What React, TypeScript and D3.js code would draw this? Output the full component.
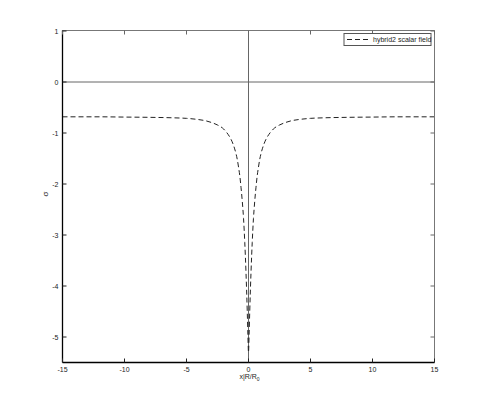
import React, { useEffect, useRef } from 'react'
import * as d3 from 'd3'

// profile of the field
const xValues = [-15, -12, -10, -8, -6, -5, -4, -3.5, -3, -2.5, -2, -1.75, -1.5, -1.25, -1, -0.9, -0.8, -0.7, -0.6, -0.5, -0.4, -0.3, -0.2, -0.1, -0.05, 0,
    0.05, 0.1, 0.2, 0.3, 0.4, 0.5, 0.6, 0.7, 0.8, 0.9, 1, 1.25, 1.5, 1.75, 2, 2.5, 3, 3.5, 4, 5, 6, 8, 10, 12, 15]
const sigmaValues = [-0.69, -0.69, -0.695, -0.7, -0.71, -0.72, -0.745, -0.765, -0.8, -0.85, -0.93, -1.0, -1.09, -1.22, -1.42, -1.53, -1.68, -1.85, -2.08, -2.35, -2.68, -3.15, -3.75, -4.5, -4.95, -5.3,
    -4.95, -4.5, -3.75, -3.15, -2.68, -2.35, -2.08, -1.85, -1.68, -1.53, -1.42, -1.22, -1.09, -1.0, -0.93, -0.85, -0.8, -0.765, -0.745, -0.72, -0.71, -0.7, -0.695, -0.69, -0.69]

const xTicks = [-15, -10, -5, 0, 5, 10, 15]
const yTicks = [-5, -4, -3, -2, -1, 0, 1]
const seriesName = 'hybrid2 scalar field'

const svgWidth = 480
const svgHeight = 409
const margin = { top: 30.5, right: 45.5, bottom: 46.5, left: 62.5 }
const font = 'Liberation Sans, Arial, sans-serif'

function App() {
    const ref = useRef<SVGSVGElement>(null)

    useEffect(() => {
        const svg = d3.select(ref.current)
        svg.selectAll('*').remove()
        const width = svgWidth - margin.left - margin.right
        const height = svgHeight - margin.top - margin.bottom

        const x = d3.scaleLinear().domain([-15, 15]).range([0, width])
        const y = d3.scaleLinear().domain([-5.5, 1]).range([height, 0])

        const g = svg.append('g').attr('transform', `translate(${margin.left}, ${margin.top})`)

        // zero lines
        g.append('line')
            .attr('x1', 0).attr('x2', width)
            .attr('y1', Math.round(y(0)) + 0.5).attr('y2', Math.round(y(0)) + 0.5)
            .attr('stroke', '#666').attr('stroke-width', 1)
        g.append('line')
            .attr('x1', Math.round(x(0))).attr('x2', Math.round(x(0)))
            .attr('y1', 0).attr('y2', height)
            .attr('stroke', '#666').attr('stroke-width', 1)

        // the curve
        const line = d3.line<number>()
            .x((d, i) => x(xValues[i]))
            .y(d => y(d))
            .curve(d3.curveMonotoneX)
        g.append('path')
            .datum(sigmaValues)
            .attr('d', line)
            .attr('fill', 'none')
            .attr('stroke', '#222')
            .attr('stroke-width', 1)
            .attr('stroke-dasharray', '5,3')

        // box
        g.append('line').attr('x1', 0).attr('x2', width).attr('y1', 0).attr('y2', 0).attr('stroke', '#777')
        g.append('line').attr('x1', width).attr('x2', width).attr('y1', 0).attr('y2', height).attr('stroke', '#777')
        g.append('line').attr('x1', 0).attr('x2', 0).attr('y1', 0).attr('y2', height).attr('stroke', '#000').attr('stroke-width', 1.3)
        g.append('line').attr('x1', 0).attr('x2', width).attr('y1', height).attr('y2', height).attr('stroke', '#000').attr('stroke-width', 1.3)

        // ticks, pointing inwards like matlab
        const tick = 4
        xTicks.forEach(t => {
            const px = Math.round(x(t))
            g.append('line').attr('x1', px).attr('x2', px).attr('y1', height).attr('y2', height - tick).attr('stroke', '#222')
            g.append('line').attr('x1', px).attr('x2', px).attr('y1', 0).attr('y2', tick).attr('stroke', '#666')
            g.append('text')
                .attr('x', px).attr('y', height + 9)
                .attr('text-anchor', 'middle')
                .attr('font-family', font).attr('font-size', 7)
                .attr('fill', '#222')
                .text(`${t}`)
        })
        yTicks.forEach(t => {
            const py = Math.round(y(t)) + 0.5
            g.append('line').attr('x1', 0).attr('x2', tick).attr('y1', py).attr('y2', py).attr('stroke', '#222')
            g.append('line').attr('x1', width).attr('x2', width - tick).attr('y1', py).attr('y2', py).attr('stroke', '#666')
            g.append('text')
                .attr('x', -4).attr('y', py + 2.5)
                .attr('text-anchor', 'end')
                .attr('font-family', font).attr('font-size', 7)
                .attr('fill', '#222')
                .text(`${t}`)
        })

        // axis labels
        const xl = g.append('text')
            .attr('x', x(0) + 1).attr('y', height + 16)
            .attr('text-anchor', 'middle')
            .attr('font-family', font).attr('font-size', 7)
            .attr('fill', '#222')
        xl.append('tspan').text('x|R/R')
        xl.append('tspan').attr('dy', 2.5).attr('font-size', 5).text('0')

        g.append('text')
            .attr('transform', `translate(${-15}, ${y(-2.2)}) rotate(-90)`)
            .attr('text-anchor', 'middle')
            .attr('font-family', font).attr('font-size', 8)
            .attr('fill', '#222')
            .text('σ')

        // legend
        const lg = g.append('g').attr('transform', `translate(${width - 90.5}, ${3})`)
        lg.append('rect').attr('width', 87).attr('height', 12)
            .attr('fill', '#fff').attr('stroke', '#555').attr('stroke-width', 1)
        lg.append('line').attr('x1', 3).attr('x2', 27).attr('y1', 6).attr('y2', 6)
            .attr('stroke', '#222').attr('stroke-dasharray', '5,3')
        lg.append('text').attr('x', 29).attr('y', 8.5)
            .attr('font-family', font).attr('font-size', 7)
            .attr('fill', '#222')
            .text(seriesName)
    }, [])

    return (
        <svg ref={ref} width={svgWidth} height={svgHeight}
            style={{ position: 'absolute', left: 0, top: 0, background: '#fff' }} />
    )
}

export default App
